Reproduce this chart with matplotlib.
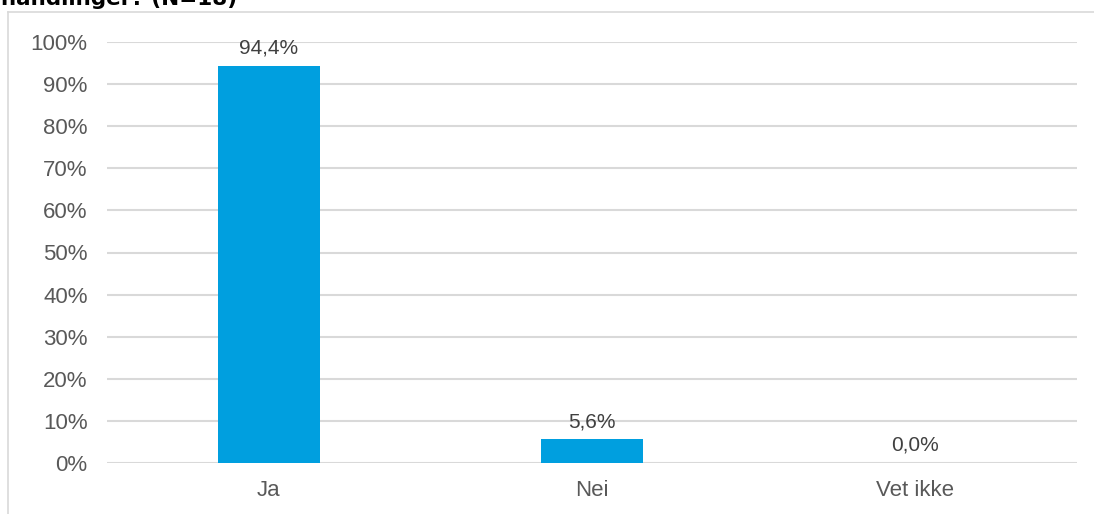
import matplotlib.pyplot as plt
from matplotlib.lines import Line2D
from matplotlib.ticker import FuncFormatter

categories = ['Ja', 'Nei', 'Vet ikke']
values = [94.4, 5.6, 0.0]
value_labels = ['94,4%', '5,6%', '0,0%']
title = 'handlinger? (N=18)'

plt.rcParams['font.family'] = ['Liberation Sans', 'DejaVu Sans']

fig = plt.figure(figsize=(10.94, 5.14), dpi=100)
ax = fig.add_axes([107 / 1094, 51 / 514, 970 / 1094, 421 / 514])

x = range(len(categories))
ax.bar(x, values, width=0.315, color='#009fdf', zorder=3)

for xi, v, lab in zip(x, values, value_labels):
    ax.annotate(lab, (xi, v), xytext=(0, 6), textcoords='offset points',
                ha='center', va='bottom', fontsize=15, color='#404040')

ax.set_xlim(-0.5, 2.5)
ax.set_ylim(0, 100)
ax.set_yticks(range(0, 101, 10))
ax.yaxis.set_major_formatter(FuncFormatter(lambda v, p: '%d%%' % v))
ax.set_xticks(list(x))
ax.set_xticklabels(categories)
ax.grid(axis='y', color='#d9d9d9', linewidth=1.5, zorder=0)
for s in ax.spines.values():
    s.set_visible(False)
ax.tick_params(axis='both', length=0, labelsize=16, colors='#595959')
ax.tick_params(axis='y', pad=14)
ax.tick_params(axis='x', pad=12)

# chart area border (only top and left visible)
fig.add_artist(Line2D([8 / 1094, 8 / 1094], [0, 1 - 12 / 514],
                      transform=fig.transFigure, color='#d9d9d9', lw=1.2))
fig.add_artist(Line2D([8 / 1094, 1], [1 - 12 / 514, 1 - 12 / 514],
                      transform=fig.transFigure, color='#d9d9d9', lw=1.2))

# title cut off at the top
fig.text(1 / 1094, 1 - 5 / 514, title, fontsize=15.5, fontweight='bold',
         family='DejaVu Sans', va='baseline', ha='left', color='black')

fig.savefig('out.png', dpi=100)
